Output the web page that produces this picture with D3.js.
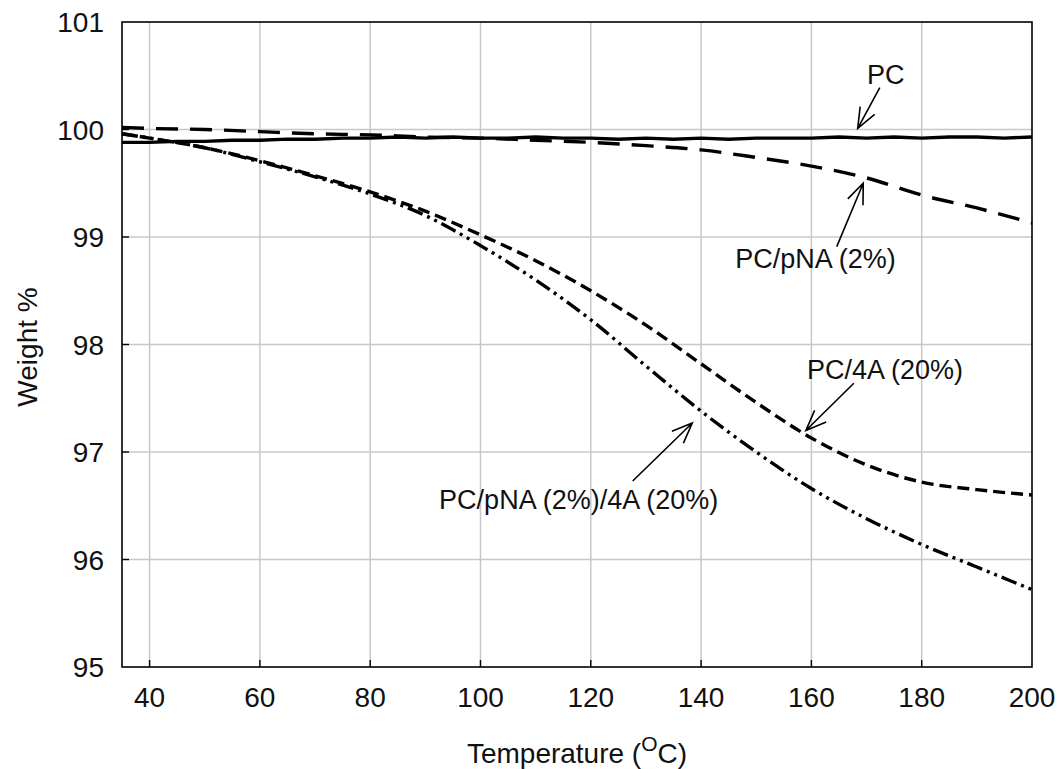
<!DOCTYPE html>
<html>
<head>
<meta charset="utf-8">
<script src="https://cdn.jsdelivr.net/npm/d3@7"></script>
<style>
  body { margin: 0; background: #fff; }
  svg { display: block; font-family: "Liberation Sans", Arial, Helvetica, sans-serif; }
  .grid line { stroke: #c8c8c8; stroke-width: 1.5; }
  .curve { fill: none; stroke: #000; stroke-width: 3.4; }
  .tick-label { font-size: 28px; fill: #111; }
  .axis-title { font-size: 28px; fill: #111; }
  .note { font-size: 27px; fill: #111; }
  .arrow { fill: none; stroke: #000; stroke-width: 1.6; }
</style>
</head>
<body>
<svg id="chart" width="1062" height="769"></svg>
<script>
// temperatures (deg C)
let tempPC = [35, 40, 45, 50, 55, 60, 65, 70, 75, 80, 85, 90, 95, 100, 105, 110, 115, 120, 125, 130,
  135, 140, 145, 150, 155, 160, 165, 170, 175, 180, 185, 190, 195, 200]
let weightPC = [99.88, 99.88, 99.89, 99.89, 99.90, 99.90, 99.91, 99.91, 99.92, 99.92, 99.93, 99.92, 99.93, 99.92, 99.92, 99.93, 99.92, 99.92,
  99.91, 99.92, 99.91, 99.92, 99.91, 99.92, 99.92, 99.92, 99.93, 99.92, 99.93, 99.92, 99.93, 99.93, 99.92, 99.93]

let tempCurve = [35, 40, 50, 60, 70, 80, 90, 100, 110, 120, 130, 140, 150, 160, 170, 180, 190, 200]
let weightPNA = [100.02, 100.01, 100.0, 99.98, 99.96, 99.95, 99.93, 99.92, 99.9, 99.88, 99.85, 99.81, 99.74, 99.66, 99.55, 99.39, 99.27, 99.13]
let weight4A = [99.96, 99.92, 99.83, 99.71, 99.57, 99.42, 99.24, 99.02, 98.78, 98.5, 98.18, 97.82, 97.46, 97.13, 96.88, 96.72, 96.65, 96.6]
let weightPNA4A = [99.96, 99.92, 99.83, 99.7, 99.56, 99.4, 99.2, 98.92, 98.6, 98.23, 97.8, 97.38, 97.0, 96.66, 96.38, 96.14, 95.93, 95.72]

let xTicks = [40, 60, 80, 100, 120, 140, 160, 180, 200]
let yTicks = [95, 96, 97, 98, 99, 100, 101]

// annotations: label position, arrow tail and tip in data units
let notes = [
  {text: 'PC', anchor: 'middle', lx: 173.5, ly: 100.42, tail: [172.4, 100.39], tip: [168.4, 100.01]},
  {text: 'PC/pNA (2%)', anchor: 'start', lx: 146.2, ly: 98.71, tail: [164.6, 98.91], tip: [169.4, 99.5]},
  {text: 'PC/4A (20%)', anchor: 'start', lx: 159.2, ly: 97.68, tail: [167.7, 97.64], tip: [159.0, 97.2]},
  {text: 'PC/pNA (2%)/4A (20%)', anchor: 'start', lx: 92.5, ly: 96.47, tail: [127.6, 96.73], tip: [138.4, 97.27]}
]

let mLeft = 122, mRight = 1032, mTop = 22, mBottom = 667

let svg = d3.select('#chart')

let x = d3.scaleLinear().domain([35, 200]).range([mLeft, mRight])
let y = d3.scaleLinear().domain([95, 101]).range([mBottom, mTop])

// grid
let grid = svg.append('g').attr('class', 'grid')
grid.selectAll('.gx')
  .data(xTicks.filter(t => t < 200))
  .enter()
  .append('line')
  .attr('x1', d => x(d)).attr('x2', d => x(d))
  .attr('y1', mTop).attr('y2', mBottom)
grid.selectAll('.gy')
  .data(yTicks.filter(t => t > 95 && t < 101))
  .enter()
  .append('line')
  .attr('x1', mLeft).attr('x2', mRight)
  .attr('y1', d => y(d)).attr('y2', d => y(d))

// curves
let series = [
  {t: tempPC, w: weightPC, dash: null, curve: d3.curveLinear},
  {t: tempCurve, w: weightPNA, dash: '22,12', curve: d3.curveMonotoneX},
  {t: tempCurve, w: weight4A, dash: '12,6', curve: d3.curveMonotoneX},
  {t: tempCurve, w: weightPNA4A, dash: '16,5,3,5,3,5', curve: d3.curveMonotoneX}
]

series.forEach(s => {
  let line = d3.line()
    .x(d => x(d[0]))
    .y(d => y(d[1]))
    .curve(s.curve)
  svg.append('path')
    .datum(s.t.map((t, i) => [t, s.w[i]]))
    .attr('class', 'curve')
    .attr('stroke-dasharray', s.dash)
    .attr('d', line)
})

// frame
svg.append('rect')
  .attr('x', mLeft).attr('y', mTop)
  .attr('width', mRight - mLeft).attr('height', mBottom - mTop)
  .attr('fill', 'none').attr('stroke', '#000').attr('stroke-width', 1.6)

// inner ticks
svg.selectAll('.xt')
  .data(xTicks.filter(t => t < 200))
  .enter()
  .append('line')
  .attr('x1', d => x(d)).attr('x2', d => x(d))
  .attr('y1', mBottom).attr('y2', mBottom - 7)
  .attr('stroke', '#000').attr('stroke-width', 1.4)
svg.selectAll('.yt')
  .data(yTicks.filter(t => t > 95 && t < 101))
  .enter()
  .append('line')
  .attr('x1', mLeft).attr('x2', mLeft + 7)
  .attr('y1', d => y(d)).attr('y2', d => y(d))
  .attr('stroke', '#000').attr('stroke-width', 1.4)

// tick labels
svg.selectAll('.xl')
  .data(xTicks)
  .enter()
  .append('text')
  .attr('class', 'tick-label')
  .attr('x', d => x(d))
  .attr('y', 707)
  .attr('text-anchor', 'middle')
  .text(d => d)
svg.selectAll('.yl')
  .data(yTicks)
  .enter()
  .append('text')
  .attr('class', 'tick-label')
  .attr('x', 104)
  .attr('y', d => y(d) + 10)
  .attr('text-anchor', 'end')
  .text(d => d)

// axis titles
let xt = svg.append('text')
  .attr('class', 'axis-title')
  .attr('x', (mLeft + mRight) / 2)
  .attr('y', 763)
  .attr('text-anchor', 'middle')
xt.append('tspan').text('Temperature (')
xt.append('tspan').attr('font-size', 21).attr('dy', -12).text('O')
xt.append('tspan').attr('dy', 12).text('C)')

svg.append('text')
  .attr('class', 'axis-title')
  .attr('transform', 'translate(37,347) rotate(-90)')
  .attr('text-anchor', 'middle')
  .text('Weight %')

// annotations with open arrowheads
let headLen = 22, headAng = 22 * Math.PI / 180
notes.forEach(n => {
  svg.append('text')
    .attr('class', 'note')
    .attr('x', x(n.lx))
    .attr('y', y(n.ly))
    .attr('text-anchor', n.anchor)
    .text(n.text)

  let x0 = x(n.tail[0]), y0 = y(n.tail[1])
  let x1 = x(n.tip[0]), y1 = y(n.tip[1])
  let a = Math.atan2(y0 - y1, x0 - x1)
  let p = d3.path()
  p.moveTo(x0, y0)
  p.lineTo(x1, y1)
  p.moveTo(x1 + headLen * Math.cos(a - headAng), y1 + headLen * Math.sin(a - headAng))
  p.lineTo(x1, y1)
  p.lineTo(x1 + headLen * Math.cos(a + headAng), y1 + headLen * Math.sin(a + headAng))
  svg.append('path')
    .attr('class', 'arrow')
    .attr('d', p.toString())
})
</script>
</body>
</html>
